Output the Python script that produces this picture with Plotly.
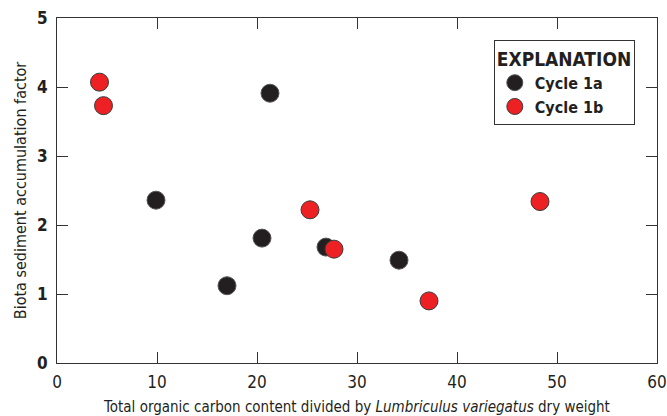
import plotly.graph_objects as go

cycle_1a_x = [9.9, 21.3, 20.5, 17.0, 26.9, 34.2]
cycle_1a_y = [2.36, 3.91, 1.81, 1.12, 1.68, 1.49]
cycle_1b_x = [4.25, 4.65, 25.3, 27.7, 37.2, 48.3]
cycle_1b_y = [4.07, 3.73, 2.22, 1.65, 0.90, 2.34]

x_ticks = [0, 10, 20, 30, 40, 50, 60]
y_ticks = [0, 1, 2, 3, 4, 5]

FONT = "Liberation Sans Narrow, Arial Narrow, DejaVu Sans Condensed, sans-serif"

fig = go.Figure()
fig.add_trace(go.Scatter(
    x=cycle_1a_x, y=cycle_1a_y, mode="markers", name="<b>Cycle 1a</b>",
    marker=dict(size=18, color="#231f20", line=dict(color="#555555", width=1)),
))
fig.add_trace(go.Scatter(
    x=cycle_1b_x, y=cycle_1b_y, mode="markers", name="<b>Cycle 1b</b>",
    marker=dict(size=18, color="#ed2024", line=dict(color="#3a3a3a", width=1)),
))

axis_common = dict(
    showgrid=False, zeroline=False, showline=True, linecolor="#333333", linewidth=1,
    mirror="allticks", ticks="inside", ticklen=11, tickcolor="#333333", tickwidth=1,
    automargin=False,
)

fig.update_xaxes(
    range=[0, 60], tickvals=x_ticks, ticktext=[str(v) for v in x_ticks],
    tickfont=dict(family=FONT, size=17, color="#231f20"), ticklabelstandoff=4,
    title=dict(text="Total organic carbon content divided by <i>Lumbriculus variegatus</i> dry weight",
               font=dict(family=FONT, size=15, color="#231f20"), standoff=12),
    **axis_common,
)
fig.update_yaxes(
    range=[0, 5], tickvals=y_ticks, ticktext=["<b>%d</b>" % v for v in y_ticks],
    tickfont=dict(family=FONT, size=17, color="#231f20"), ticklabelstandoff=5,
    title=dict(text="Biota sediment accumulation factor",
               font=dict(family=FONT, size=16, color="#231f20"), standoff=6),
    **axis_common,
)

fig.update_layout(
    width=667, height=416,
    margin=dict(l=57, r=10, t=18, b=53),
    plot_bgcolor="white", paper_bgcolor="white",
    font=dict(family=FONT, color="#231f20"),
    legend=dict(
        title=dict(text="<b>EXPLANATION</b>", font=dict(family=FONT, size=19)),
        font=dict(family=FONT, size=16),
        x=0.728, y=0.936, xanchor="left", yanchor="top",
        bordercolor="#333333", borderwidth=1, bgcolor="white",
        itemsizing="trace", tracegroupgap=4,
    ),
)

fig.write_html("out.html")
